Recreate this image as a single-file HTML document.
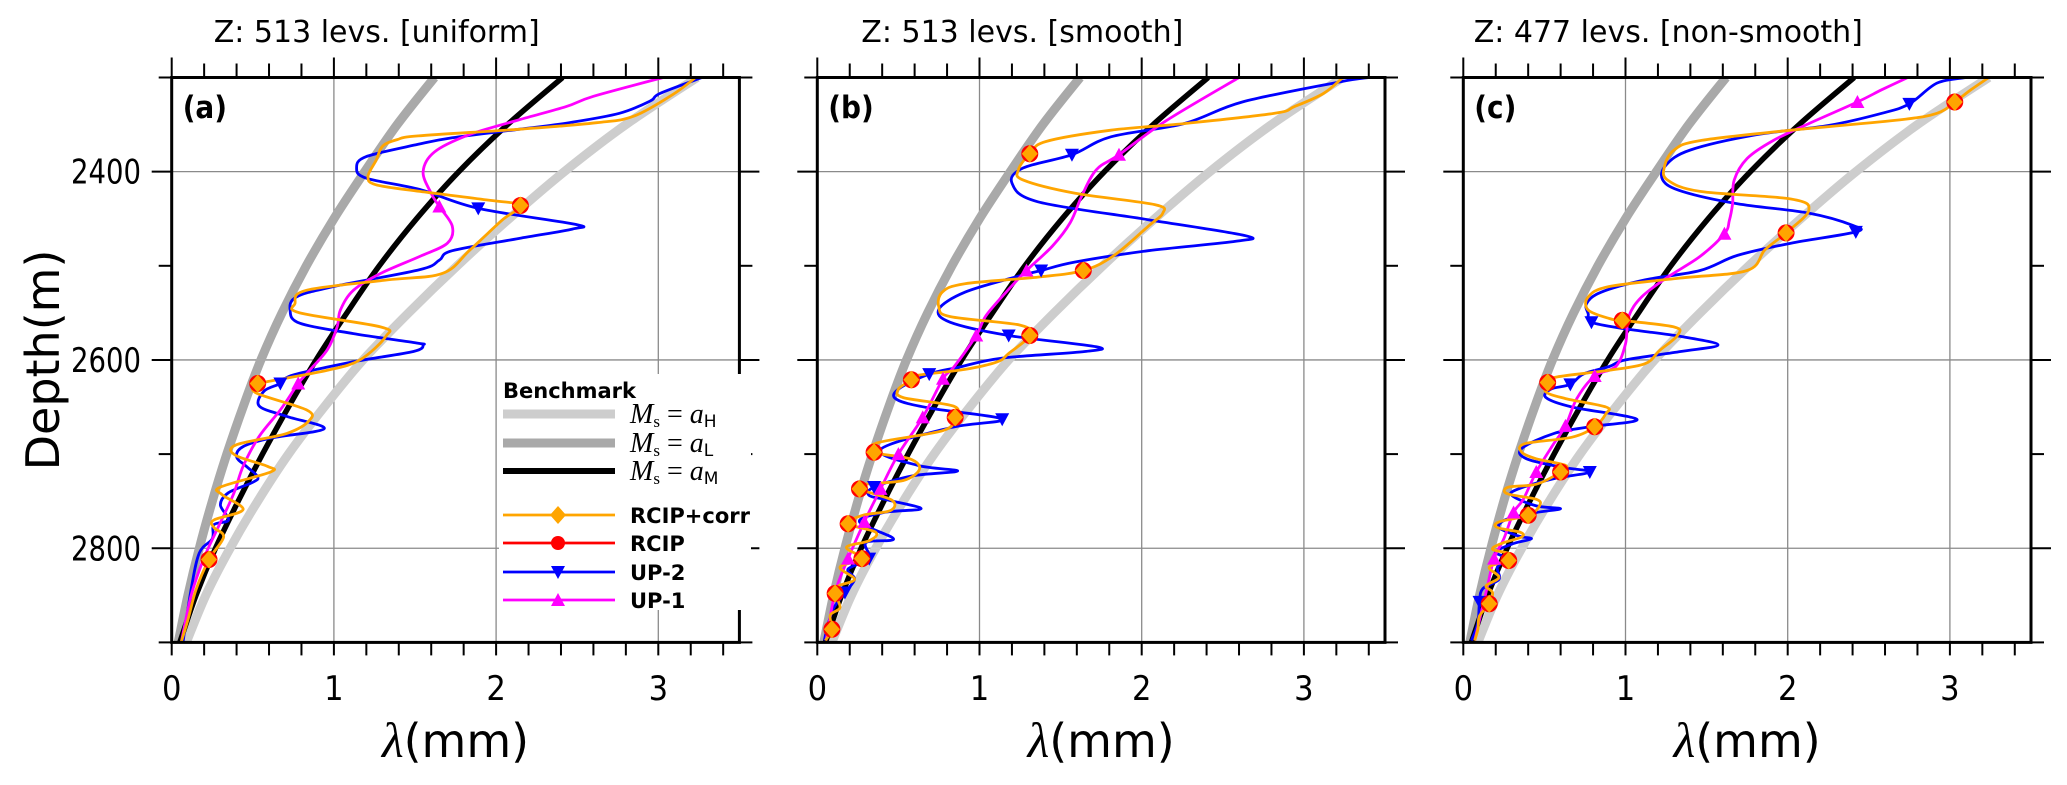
<!DOCTYPE html>
<html><head><meta charset="utf-8"><style>
html,body{margin:0;padding:0;background:#fff}
svg{display:block}
.tk{font-family:"DejaVu Sans Condensed","DejaVu Sans","Liberation Sans",sans-serif;font-size:34px;fill:#000}
.ttl{font-family:"DejaVu Sans","Liberation Sans",sans-serif;font-size:30px;fill:#000}
.ax{font-family:"DejaVu Sans","Liberation Sans",sans-serif;font-size:46px;fill:#000}
.pl{font-family:"DejaVu Sans Condensed","DejaVu Sans","Liberation Sans",sans-serif;font-size:31px;font-weight:bold}
.lg{font-family:"DejaVu Sans","Liberation Sans",sans-serif;font-size:21px;font-weight:bold}
.mt{font-family:"Liberation Serif","DejaVu Serif",serif;font-size:28px}
</style></head><body>
<svg id="chart" width="2067" height="785" viewBox="0 0 2067 785" xmlns="http://www.w3.org/2000/svg"></svg>
<script>
// ---- benchmark data ----
const benchDepths = [2300,2350,2400,2450,2500,2550,2600,2650,2700,2750,2800,2850,2900];
const benchAH = [3.24,2.80,2.42,2.08,1.76,1.46,1.18,0.94,0.72,0.53,0.36,0.21,0.09];
const benchAL = [1.62,1.39,1.19,1.00,0.83,0.68,0.55,0.44,0.34,0.25,0.17,0.10,0.04];
const benchAM = [2.41,2.07,1.77,1.51,1.28,1.08,0.89,0.72,0.56,0.41,0.27,0.15,0.05];
const xTickLabels = ["0","1","2","3"];
const yTickLabels = ["2400","2600","2800"];
const panelTitles = ["Z:  513 levs. [uniform]","Z:  513 levs. [smooth]","Z:  477 levs. [non-smooth]"];
const panelLetters = ["(a)","(b)","(c)"];

// ---- panel (a) series: [depth m, lambda mm] ----
const aCorr = [[2300,3.23],[2318,3.09],[2341,2.85],[2348,2.62],[2355,2.14],[2362,1.52],[2366,1.39],[2373,1.30],[2388,1.26],[2405,1.21],[2414,1.26],[2421,1.53],[2430,1.94],[2436,2.15],[2451,2.04],[2483,1.84],[2508,1.67],[2515,1.33],[2526,0.83],[2540,0.76],[2550,0.79],[2565,1.29],[2575,1.32],[2600,1.16],[2611,0.96],[2623,0.59],[2625,0.53],[2635,0.52],[2653,0.83],[2664,0.85],[2678,0.71],[2690,0.40],[2701,0.39],[2713,0.59],[2719,0.61],[2735,0.30],[2743,0.31],[2759,0.44],[2770,0.26],[2778,0.26],[2788,0.32],[2812,0.23],[2844,0.15],[2876,0.10],[2899,0.06]];
const aUP2 = [[2300,3.27],[2317,3.01],[2325,2.95],[2338,2.76],[2348,2.45],[2355,2.14],[2364,1.73],[2371,1.52],[2384,1.20],[2396,1.14],[2407,1.20],[2419,1.53],[2439,1.89],[2456,2.49],[2461,2.47],[2471,2.14],[2484,1.73],[2494,1.65],[2504,1.53],[2522,1.0],[2533,0.77],[2547,0.73],[2561,0.79],[2572,1.12],[2582,1.51],[2584,1.55],[2591,1.49],[2602,1.12],[2616,0.75],[2625,0.67],[2633,0.57],[2649,0.54],[2660,0.71],[2673,0.94],[2683,0.61],[2692,0.44],[2703,0.40],[2713,0.46],[2724,0.53],[2730,0.50],[2741,0.35],[2754,0.30],[2770,0.35],[2775,0.26],[2790,0.25],[2805,0.17],[2843,0.12],[2899,0.07]];
const aUP1 = [[2300,3.03],[2320,2.60],[2331,2.43],[2345,2.14],[2361,1.83],[2379,1.62],[2400,1.55],[2423,1.60],[2437,1.65],[2458,1.73],[2476,1.70],[2490,1.53],[2508,1.29],[2526,1.12],[2547,1.04],[2565,1.02],[2589,0.96],[2611,0.85],[2625,0.78],[2653,0.67],[2681,0.54],[2713,0.44],[2743,0.38],[2780,0.28],[2810,0.20],[2850,0.12],[2899,0.06]];
const aCorrMk = [[2436,2.15],[2625,0.53],[2812,0.23]];
const aUP2Mk = [[2439,1.89],[2625,0.67]];
const aUP1Mk = [[2437,1.65],[2625,0.78]];

// ---- panel (b) ----
const bCorr = [[2300,3.24],[2317,3.12],[2331,2.94],[2338,2.82],[2349,2.26],[2356,1.81],[2368,1.41],[2381,1.31],[2398,1.24],[2409,1.27],[2423,1.59],[2435,2.08],[2444,2.13],[2458,2.04],[2489,1.83],[2505,1.64],[2512,1.36],[2519,0.91],[2528,0.77],[2544,0.75],[2554,0.82],[2563,1.25],[2574,1.31],[2593,1.18],[2602,1.11],[2610,0.91],[2617,0.59],[2621,0.58],[2631,0.50],[2640,0.53],[2649,0.84],[2661,0.85],[2675,0.775],[2688,0.37],[2698,0.35],[2705,0.57],[2716,0.63],[2728,0.53],[2732,0.30],[2737,0.26],[2749,0.46],[2760,0.45],[2765,0.28],[2774,0.19],[2783,0.36],[2792,0.32],[2799,0.18],[2811,0.275],[2820,0.14],[2833,0.23],[2840,0.13],[2848,0.11],[2863,0.14],[2871,0.08],[2886,0.09],[2898,0.05]];
const bUP2 = [[2300,3.40],[2305,3.21],[2326,2.62],[2349,2.26],[2363,1.81],[2382,1.57],[2396,1.27],[2412,1.20],[2432,1.36],[2451,2.04],[2468,2.64],[2474,2.58],[2484,2.04],[2496,1.59],[2505,1.38],[2512,1.22],[2528,0.91],[2546,0.75],[2560,0.82],[2574,1.18],[2586,1.72],[2591,1.65],[2598,1.14],[2608,0.865],[2615,0.69],[2631,0.50],[2642,0.49],[2651,0.69],[2663,1.14],[2672,0.82],[2695,0.39],[2712,0.62],[2718,0.865],[2723,0.59],[2735,0.35],[2744,0.32],[2749,0.44],[2758,0.64],[2762,0.41],[2772,0.26],[2790,0.47],[2794,0.30],[2811,0.32],[2822,0.19],[2833,0.23],[2847,0.17],[2864,0.10],[2882,0.065],[2898,0.043]];
const bUP1 = [[2300,2.60],[2346,2.15],[2382,1.86],[2398,1.72],[2426,1.63],[2454,1.56],[2479,1.45],[2505,1.29],[2525,1.18],[2553,1.04],[2574,0.98],[2608,0.84],[2620,0.775],[2661,0.65],[2700,0.50],[2737,0.39],[2772,0.29],[2811,0.19],[2847,0.11],[2898,0.054]];
const bCorrMk = [[2381,1.31],[2505,1.64],[2574,1.31],[2621,0.58],[2661,0.85],[2698,0.35],[2737,0.26],[2774,0.19],[2811,0.275],[2848,0.11],[2886,0.09]];
const bUP2Mk = [[2382,1.57],[2505,1.38],[2574,1.18],[2615,0.69],[2663,1.14],[2735,0.35],[2811,0.32],[2847,0.17]];
const bUP1Mk = [[2382,1.86],[2505,1.29],[2574,0.98],[2620,0.775],[2661,0.65],[2700,0.50],[2737,0.39],[2772,0.29],[2811,0.19]];

// ---- panel (c) ----
const cCorr = [[2300,3.24],[2313,3.13],[2326,3.03],[2338,2.92],[2345,2.69],[2356,2.02],[2367,1.46],[2377,1.30],[2395,1.24],[2409,1.26],[2421,1.46],[2429,2.02],[2441,2.13],[2465,1.99],[2483,1.86],[2505,1.75],[2513,1.34],[2522,0.90],[2533,0.77],[2547,0.77],[2556,0.90],[2558,0.98],[2565,1.30],[2574,1.32],[2590,1.21],[2604,1.12],[2611,0.90],[2618,0.58],[2624,0.52],[2634,0.51],[2641,0.63],[2650,0.88],[2657,0.88],[2671,0.81],[2682,0.67],[2689,0.38],[2698,0.36],[2705,0.45],[2712,0.63],[2719,0.60],[2732,0.45],[2735,0.28],[2742,0.27],[2748,0.45],[2755,0.47],[2765,0.40],[2772,0.22],[2778,0.21],[2783,0.35],[2788,0.36],[2794,0.25],[2801,0.18],[2806,0.29],[2813,0.28],[2820,0.16],[2831,0.22],[2840,0.14],[2847,0.18],[2859,0.16],[2872,0.10],[2886,0.09],[2898,0.07]];
const cUP2 = [[2300,3.10],[2306,2.92],[2328,2.75],[2338,2.58],[2351,2.25],[2361,1.80],[2377,1.40],[2393,1.25],[2409,1.23],[2421,1.35],[2434,1.69],[2444,2.13],[2457,2.40],[2464,2.42],[2476,2.02],[2489,1.69],[2505,1.46],[2515,1.12],[2528,0.85],[2540,0.76],[2551,0.77],[2560,0.79],[2567,1.0],[2575,1.34],[2584,1.57],[2591,1.34],[2600,1.0],[2607,0.90],[2615,0.74],[2626,0.66],[2631,0.54],[2640,0.51],[2650,0.67],[2663,1.07],[2671,0.78],[2678,0.56],[2694,0.36],[2705,0.39],[2714,0.61],[2719,0.78],[2726,0.56],[2737,0.34],[2744,0.30],[2755,0.45],[2758,0.60],[2762,0.45],[2769,0.27],[2778,0.22],[2787,0.34],[2790,0.42],[2795,0.31],[2804,0.20],[2811,0.27],[2820,0.21],[2833,0.22],[2843,0.12],[2857,0.10],[2879,0.09],[2898,0.05]];
const cUP1 = [[2300,2.74],[2313,2.58],[2326,2.43],[2349,2.13],[2367,1.91],[2386,1.75],[2409,1.67],[2434,1.66],[2452,1.64],[2466,1.61],[2490,1.46],[2512,1.26],[2533,1.10],[2554,1.02],[2583,1.0],[2607,0.94],[2617,0.81],[2641,0.70],[2670,0.63],[2691,0.55],[2719,0.45],[2748,0.37],[2762,0.31],[2790,0.25],[2811,0.19],[2847,0.14],[2898,0.07]];
const cCorrMk = [[2326,3.03],[2465,1.99],[2558,0.98],[2624,0.52],[2671,0.81],[2719,0.60],[2765,0.40],[2813,0.28],[2859,0.16]];
const cUP2Mk = [[2328,2.75],[2464,2.42],[2560,0.79],[2626,0.66],[2719,0.78],[2857,0.10]];
const cUP1Mk = [[2326,2.43],[2466,1.61],[2617,0.81],[2670,0.63],[2719,0.45],[2762,0.31],[2811,0.19]];

const NS = "http://www.w3.org/2000/svg";
const svg = document.getElementById("chart");
const X0 = [171.7, 817.3, 1463.3];
const UNIT = 162.2, TOP = 77.5, PPM = 0.9415, XMAX = 3.5, D0 = 2300, D1 = 2900;
function xs(p, v){ return X0[p] + v*UNIT; }
function ys(d){ return TOP + (d - D0)*PPM; }
function mk(tag, attrs, parent){
  const e = document.createElementNS(NS, tag);
  for (const k in attrs) e.setAttribute(k, attrs[k]);
  (parent||svg).appendChild(e);
  return e;
}
function smoothPath(pts){
  if (pts.length < 2) return "";
  let d = "M" + pts[0][0].toFixed(1) + "," + pts[0][1].toFixed(1);
  for (let i=0;i<pts.length-1;i++){
    const p0 = pts[Math.max(0,i-1)], p1 = pts[i], p2 = pts[i+1], p3 = pts[Math.min(pts.length-1,i+2)];
    const k = 1/6;
    const c1x = p1[0] + (p2[0]-p0[0])*k, c1y = p1[1] + (p2[1]-p0[1])*k;
    const c2x = p2[0] - (p3[0]-p1[0])*k, c2y = p2[1] - (p3[1]-p1[1])*k;
    d += " C" + c1x.toFixed(1)+","+c1y.toFixed(1)+" "+c2x.toFixed(1)+","+c2y.toFixed(1)+" "+p2[0].toFixed(1)+","+p2[1].toFixed(1);
  }
  return d;
}
const panels = [
  {corr:aCorr, up2:aUP2, up1:aUP1, corrMk:aCorrMk, up2Mk:aUP2Mk, up1Mk:aUP1Mk},
  {corr:bCorr, up2:bUP2, up1:bUP1, corrMk:bCorrMk, up2Mk:bUP2Mk, up1Mk:bUP1Mk},
  {corr:cCorr, up2:cUP2, up1:cUP1, corrMk:cCorrMk, up2Mk:cUP2Mk, up1Mk:cUP1Mk}
];
const defs = mk("defs", {});
function diamond(g, x, y, name){
  const c = mk("circle", {cx:x, cy:y, r:8.5, fill:"#ff0000"}, g);
  
  
  const p = mk("polygon", {points:`${x},${y-9} ${x+8},${y} ${x},${y+9} ${x-8},${y}`, fill:"#ffa500"}, g);
  
  
}
function triDown(g, x, y, col, name){
  const p = mk("polygon", {points:`${x-7},${y-6} ${x+7},${y-6} ${x},${y+7}`, fill:col}, g);
  
  
}
function triUp(g, x, y, col, name){
  const p = mk("polygon", {points:`${x-7},${y+6} ${x+7},${y+6} ${x},${y-7}`, fill:col}, g);
  
  
}

panels.forEach((P, p) => {
  const x0 = X0[p], x1 = xs(p, XMAX), y0 = ys(D0), y1 = ys(D1);
  const g = mk("g", {});
  
  
  const cp = mk("clipPath", {id:"clip"+p}, defs);
  mk("rect", {x:x0, y:y0, width:x1-x0, height:y1-y0}, cp);
  for (let v=1; v<=3; v++){
    const l = mk("line", {x1:xs(p,v), x2:xs(p,v), y1:y0, y2:y1, stroke:"#8a8a8a", "stroke-width":1.3}, g);
    
    
  }
  [2400,2600,2800].forEach(d => {
    const l = mk("line", {x1:x0, x2:x1, y1:ys(d), y2:ys(d), stroke:"#8a8a8a", "stroke-width":1.3}, g);
    
    
  });
  const sg = mk("g", {"clip-path":`url(#clip${p})`}, g);
  
  
  const bench = [[benchAH,"#cdcdcd",9,"benchmark-ah"],[benchAL,"#a9a9a9",9,"benchmark-al"],[benchAM,"#000",5.5,"benchmark-am"]];
  bench.forEach(([arr,col,w,name]) => {
    const pts = benchDepths.map((d,i)=>[xs(p,arr[i]), ys(d)]);
    const e = mk("path", {d:smoothPath(pts), fill:"none", stroke:col, "stroke-width":w}, sg);
    
    
  });
  const ser = [[P.up2,"#0000ff","up2-line"],[P.up1,"#ff00ff","up1-line"],[P.corr,"#ffa500","rcip-corr-line"]];
  ser.forEach(([arr,col,name]) => {
    const pts = arr.map(q=>[xs(p,q[1]), ys(q[0])]);
    const e = mk("path", {d:smoothPath(pts), fill:"none", stroke:col, "stroke-width":2.8, "stroke-linejoin":"round"}, sg);
    
    
  });
  P.up2Mk.forEach(q => triDown(sg, xs(p,q[1]), ys(q[0]), "#0000ff", "up2-marker"));
  P.up1Mk.forEach(q => triUp(sg, xs(p,q[1]), ys(q[0]), "#ff00ff", "up1-marker"));
  P.corrMk.forEach(q => diamond(sg, xs(p,q[1]), ys(q[0]), "rcip"));
  const fr = mk("rect", {x:x0, y:y0, width:x1-x0, height:y1-y0, fill:"none", stroke:"#000", "stroke-width":3}, g);
  
  
  for (let i=0; i<=17; i++){
    const v = i*0.2, x = xs(p, v), major = (i%5===0);
    mk("line", {x1:x, x2:x, y1:y0, y2:y0-(major?20:14), stroke:"#000", "stroke-width":2}, g);
    mk("line", {x1:x, x2:x, y1:y1, y2:y1+13, stroke:"#000", "stroke-width":2}, g);
  }
  for (let d=2300; d<=2900; d+=100){
    const major = (d===2400||d===2600||d===2800), L = major?20:13;
    mk("line", {x1:x0, x2:x0-L, y1:ys(d), y2:ys(d), stroke:"#000", "stroke-width":2}, g);
    mk("line", {x1:x1, x2:x1+L, y1:ys(d), y2:ys(d), stroke:"#000", "stroke-width":2}, g);
  }
  xTickLabels.forEach((s,i) => {
    const t = mk("text", {x:xs(p,i), y:700, "text-anchor":"middle", class:"tk"}, g);
    t.textContent = s;
    
    
  });
  const xt = mk("text", {x:(x0+x1)/2, y:757, "text-anchor":"middle", class:"ax"}, g);
  xt.innerHTML = '<tspan font-family="Liberation Serif, DejaVu Serif, serif" font-style="italic" font-size="50">λ</tspan>(mm)';
  
  
  const tt = mk("text", {x:x0+205, y:42, "text-anchor":"middle", class:"ttl"}, g);
  tt.textContent = panelTitles[p];
  
  
  const lt = mk("text", {x:x0+11, y:118, class:"pl"}, g);
  lt.textContent = panelLetters[p];
  
  
});
yTickLabels.forEach(s => {
  const t = mk("text", {x:141, y:ys(+s)+12, "text-anchor":"end", class:"tk", textLength:70, lengthAdjust:"spacingAndGlyphs"});
  t.textContent = s;
  
  
});
const yt = mk("text", {x:0, y:0, "text-anchor":"middle", class:"ax", transform:"translate(59,360) rotate(-90)", "font-size":48});
yt.textContent = "Depth(m)";



const lg = mk("g", {});


mk("rect", {x:499, y:374, width:252, height:236, fill:"#fff"}, lg);
const lt = mk("text", {x:503, y:398, class:"lg", "font-size":23}, lg);
lt.textContent = "Benchmark";


const benchLeg = [[414,"#cdcdcd",9,"H"],[443,"#a9a9a9",9,"L"],[471,"#000",6,"M"]];
benchLeg.forEach(([y,col,w,sub]) => {
  const l = mk("line", {x1:503, x2:615, y1:y, y2:y, stroke:col, "stroke-width":w}, lg);
  
  
  const t = mk("text", {x:630, y:y+9, class:"mt"}, lg);
  t.innerHTML = '<tspan font-style="italic">M</tspan><tspan font-size="17" dy="4">s</tspan><tspan dy="-4"> = </tspan><tspan font-style="italic">a</tspan><tspan font-family="DejaVu Sans, sans-serif" font-size="17" dy="4">' + sub + '</tspan>';
  
  
});
const serLeg = [[515,"#ffa500","RCIP+corr"],[543,"#ff0000","RCIP"],[572,"#0000ff","UP-2"],[600,"#ff00ff","UP-1"]];
serLeg.forEach(([y,col,label],i) => {
  const l = mk("line", {x1:503, x2:615, y1:y, y2:y, stroke:col, "stroke-width":2.8}, lg);
  
  
  if (i===0){ const d = mk("polygon", {points:`558,${y-9} 566,${y} 558,${y+9} 550,${y}`, fill:col}, lg);   }
  if (i===1){ const c = mk("circle", {cx:558, cy:y, r:7, fill:col}, lg);   }
  if (i===2) triDown(lg, 558, y, col, 'legend-marker');
  if (i===3) triUp(lg, 558, y, col, 'legend-marker');
  const t = mk("text", {x:630, y:y+8, class:"lg"}, lg);
  t.textContent = label;
  
  
});
</script>
</body></html>
